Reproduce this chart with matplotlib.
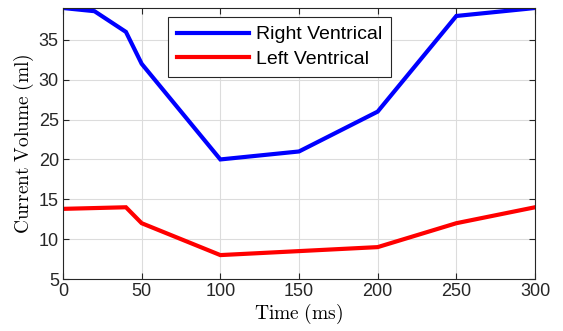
import matplotlib
matplotlib.use("Agg")
import matplotlib.pyplot as plt

time_ms = [0, 20, 40, 50, 100, 150, 200, 250, 300]
right_ventrical = [39, 38.6, 36, 32, 20, 21, 26, 38, 39]
left_ventrical = [13.8, 13.9, 14.0, 12, 8, 8.5, 9, 12, 14]
xticks = [0, 50, 100, 150, 200, 250, 300]
yticks = [5, 10, 15, 20, 25, 30, 35]

plt.rcParams['font.family'] = ['Liberation Sans', 'DejaVu Sans']
plt.rcParams['mathtext.fontset'] = 'cm'

fig = plt.figure(figsize=(5.63, 3.31), dpi=100)
ax = fig.add_axes([63/563, (331-279)/331, (535-63)/563, (279-8)/331])
ax.plot(time_ms, right_ventrical, color='#0000ff', lw=3, label='Right Ventrical', solid_joinstyle='miter')
ax.plot(time_ms, left_ventrical, color='#ff0000', lw=3, label='Left Ventrical', solid_joinstyle='miter')
ax.set_xlim(0, 300)
ax.set_ylim(5, 39)
ax.set_xticks(xticks)
ax.set_yticks(yticks)
ax.grid(True, color='#dcdcdc', lw=0.8)
ax.set_axisbelow(True)
ax.tick_params(direction='in', top=True, right=True, labelsize=13, length=4, pad=3,
               colors='#262626', labelcolor='#262626')
for s in ax.spines.values():
    s.set_color('#262626')
    s.set_linewidth(0.8)
ax.set_xlabel(r'$\mathrm{Time\ (ms)}$', fontsize=14, labelpad=1)
ax.set_ylabel(r'$\mathrm{Current\ Volume\ (ml)}$', fontsize=14, labelpad=2)
leg = ax.legend(loc='upper left', bbox_to_anchor=((168-63)/472, (279-17)/271), fontsize=14,
                fancybox=False, edgecolor='#262626', framealpha=1, handlelength=3.7,
                handletextpad=0.35, borderaxespad=0, labelspacing=0.35, borderpad=0.45)
leg.get_frame().set_linewidth(0.8)
fig.savefig('out.png', dpi=100)
